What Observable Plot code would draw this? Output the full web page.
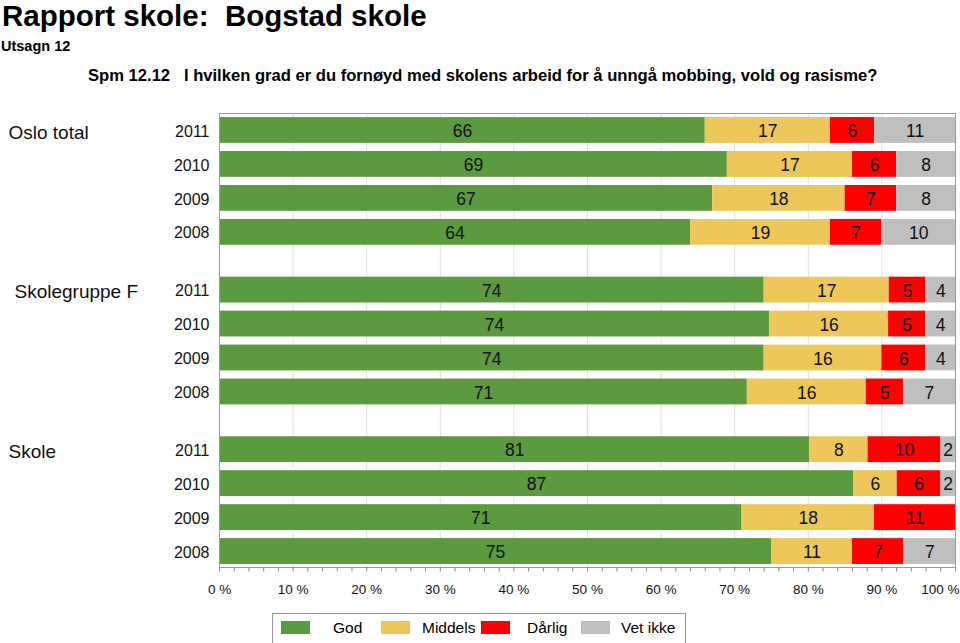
<!DOCTYPE html>
<html>
<head>
<meta charset="utf-8">
<script src="https://cdn.jsdelivr.net/npm/d3@7"></script>
<script src="https://cdn.jsdelivr.net/npm/@observablehq/plot@0.6"></script>
<style>
  html, body { margin: 0; padding: 0; background: #fff; }
  body { font-family: "Liberation Sans", Arial, Helvetica, sans-serif; }
  #wrap { position: relative; width: 960px; height: 643px; overflow: hidden; }
  #chart { position: absolute; left: 0; top: 0; }
  .t { position: absolute; white-space: nowrap; color: #000; line-height: 1.2; }
  #title { left: 2px; top: 0px; font-size: 29.5px; font-weight: bold; line-height: 31px; }
  #sub { left: 1px; top: 38px; font-size: 14.5px; font-weight: bold; }
  #q { left: 88px; top: 66px; font-size: 16.6px; font-weight: bold; }
  #legend { position: absolute; left: 272px; top: 613px; width: 414px; height: 40px; border: 1px solid #999; box-sizing: border-box; }
  .sw { position: absolute; top: 7px; width: 29px; height: 13px; }
  .lt { position: absolute; top: 5px; font-size: 15.5px; }
</style>
</head>
<body>
<div id="wrap">
  <div id="chart"></div>
  <div class="t" id="title">Rapport skole:&nbsp; Bogstad skole</div>
  <div class="t" id="sub">Utsagn 12</div>
  <div class="t" id="q">Spm 12.12&nbsp;&nbsp; I hvilken grad er du fornøyd med skolens arbeid for å unngå mobbing, vold og rasisme?</div>
  <div id="legend"></div>
</div>
<script>
// ---- data ----
const groups = ["Oslo total", "Skolegruppe F", "Skole"];
const years = ["2011", "2010", "2009", "2008"];
const categories = ["God", "Middels", "Dårlig", "Vet ikke"];
const colors = ["#5b9a3e", "#eec75a", "#ff0000", "#bfbfbf"];
const osloTotal   = [[66, 17, 6, 11], [69, 17, 6, 8], [67, 18, 7, 8], [64, 19, 7, 10]];
const skolegruppe = [[74, 17, 5, 4], [74, 16, 5, 4], [74, 16, 6, 4], [71, 16, 5, 7]];
const skole       = [[81, 8, 10, 2], [87, 6, 6, 2], [71, 18, 11, 0], [75, 11, 7, 7]];
const xTicks = [0, 10, 20, 30, 40, 50, 60, 70, 80, 90, 100];

// ---- build table ----
const groupValues = [osloTotal, skolegruppe, skole];
const groupStep = 4.7;   // rows between group starts
const half = 0.38;       // half bar thickness (row units)
const segs = [];
const rows = [];
groups.forEach((g, gi) => {
  years.forEach((yr, yi) => {
    const vals = groupValues[gi][yi];
    const total = d3.sum(vals);
    const pos = gi * groupStep + yi;
    rows.push({group: g, year: yr, pos, first: yi === 0, gi});
    let acc = 0;
    vals.forEach((v, ci) => {
      const x1 = acc / total * 100;
      acc += v;
      const x2 = acc / total * 100;
      segs.push({group: g, year: yr, cat: categories[ci], value: v, x1, x2, pos});
    });
  });
});
const yMax = 2 * groupStep + 3 + 0.47;
const fmt = d => d + " %";

const chart = Plot.plot({
  width: 960,
  height: 643,
  marginTop: 113,
  marginLeft: 219,
  marginRight: 5,
  marginBottom: 76,
  style: {fontFamily: '"Liberation Sans", Arial, Helvetica, sans-serif', background: "#fff", color: "#000"},
  x: {domain: [0, 100], axis: null},
  y: {domain: [-0.5, yMax], reverse: true, axis: null},
  color: {domain: categories, range: colors},
  marks: [
    Plot.ruleX(xTicks, {stroke: "#e0e0e0", strokeWidth: 1}),
    Plot.rectX(segs.filter(d => d.value > 0), {
      x1: "x1", x2: "x2",
      y1: d => d.pos - half, y2: d => d.pos + half,
      fill: "cat"
    }),
    Plot.text(segs.filter(d => d.value > 0), {
      x: d => (d.x1 + d.x2) / 2, y: "pos", text: d => String(d.value),
      fontSize: 17.5, fill: "#111", dy: 1
    }),
    Plot.text(rows, {x: 0, y: "pos", text: "year", dx: -10, textAnchor: "end", fontSize: 16, fill: "#111", dy: 1}),
    Plot.text(rows.filter(d => d.first && d.gi !== 1), {x: 0, y: "pos", text: "group", dx: -211, dy: 2, textAnchor: "start", fontSize: 19, fill: "#111"}),
    Plot.text(rows.filter(d => d.first && d.gi === 1), {x: 0, y: "pos", text: "group", dx: -205, dy: 2, textAnchor: "start", fontSize: 19, fill: "#111"}),
    Plot.frame({stroke: "#999", strokeWidth: 1}),
    Plot.ruleX(d3.range(0, 101, 2), {x: d => d, y1: yMax, y2: yMax + 0.13, stroke: "#888"}),
    Plot.text(xTicks.filter(d => d < 100), {x: d => d, y: yMax, text: fmt, dy: 22, fontSize: 13.5, fill: "#111"}),
    Plot.text(xTicks.filter(d => d === 100), {x: d => d, y: yMax, text: fmt, dy: 22, dx: 4, textAnchor: "end", fontSize: 13.5, fill: "#111"})
  ]
});
document.getElementById("chart").appendChild(chart);

// legend
const leg = document.getElementById("legend");
const swX = [8, 108, 208, 308];
const txX = [60, 149, 254, 348];
categories.forEach((c, i) => {
  const s = document.createElement("div");
  s.className = "sw"; s.style.left = swX[i] + "px"; s.style.background = colors[i];
  leg.appendChild(s);
  const t = document.createElement("div");
  t.className = "lt"; t.style.left = txX[i] + "px"; t.textContent = c;
  leg.appendChild(t);
});
</script>
</body>
</html>
